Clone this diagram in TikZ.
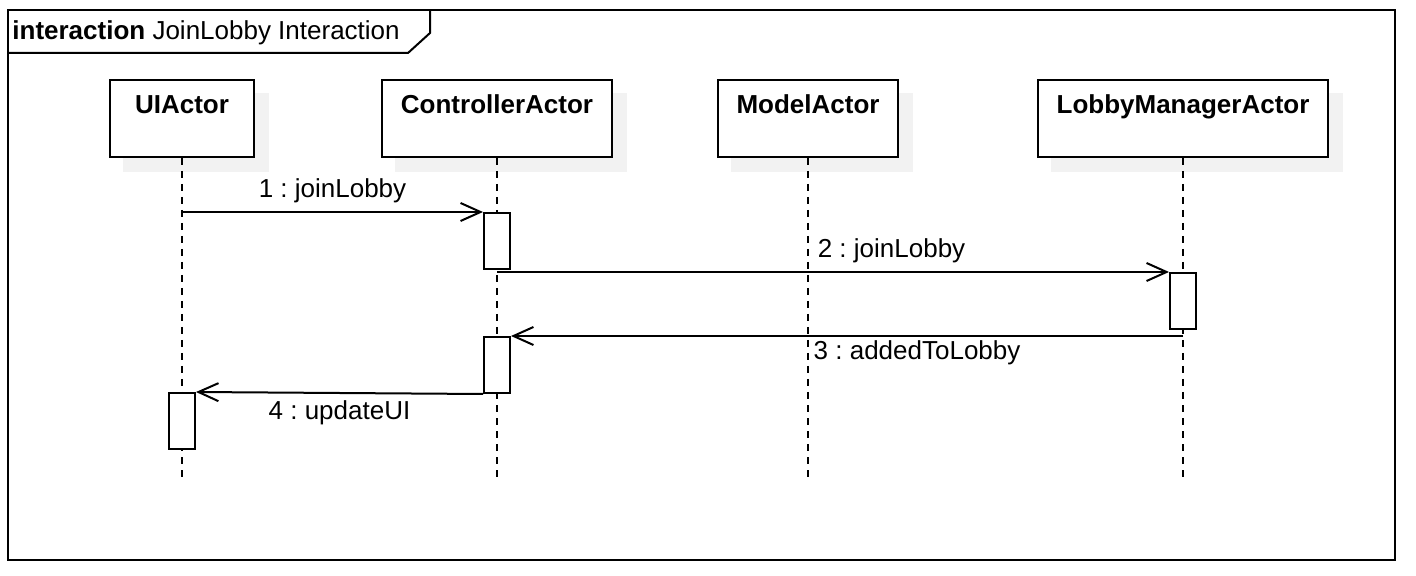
\documentclass[tikz,border=0pt]{standalone}
\usepackage{fontspec}
\setmainfont{Liberation Sans}
\frenchspacing
\usetikzlibrary{arrows.meta, backgrounds}

\begin{document}
\begin{tikzpicture}[x=0.5pt, y=-0.5pt]
    %tikz sequence
\tikzset{
    actor/.style={draw, line width=1pt, fill=white, inner sep=0pt,
        font=\bfseries\fontsize{13}{15}\selectfont, text height=16.75pt, text depth=21.75pt},
    actor shadow/.style={fill=black!5, draw=none},
    bar/.style={draw, line width=1pt, fill=white, minimum width=13pt, minimum height=28pt, inner sep=0pt, anchor=north},
    lifeline/.style={line width=1pt, dash pattern=on 3.5pt off 3pt},
    msg/.style={line width=1pt, -{Straight Barb[length=10pt, width=9pt]}},
    msg label/.style={font=\fontsize{13}{15}\selectfont, inner sep=2pt}
}
    \useasboundingbox (0,0) rectangle (1416,576);

    % frame
    \draw[line width=1pt] (8,10) rectangle (1395,560);
    \draw[line width=1pt] (430,10) -- (430,33) -- (408,53) -- (8,53);
    \node[anchor=base west, inner sep=0pt, font=\fontsize{13}{15}\selectfont](Title) at (12,39.5) {\textbf{interaction} JoinLobby Interaction};

    \node[actor, minimum width=72pt](UIActor) at (182,118.5) {UIActor};
    \node[actor, minimum width=115pt](Controller) at (497,118.5) {ControllerActor};
    \node[actor, minimum width=90pt](Model) at (808,118.5) {ModelActor};
    \node[actor, minimum width=145pt](LobbyManager) at (1183,118.5) {LobbyManagerActor};
    \coordinate (LifeEnd) at (0,478);

    \begin{scope}[on background layer]
    \foreach \a in {UIActor, Controller, Model, LobbyManager}
        \fill[actor shadow] ([shift={(14,14)}]\a.north west) rectangle ([shift={(14,14)}]\a.south east);
    \end{scope}
    \foreach \a in {UIActor, Controller, Model, LobbyManager}
        \draw[lifeline] (\a.south) -- (\a.south |- LifeEnd);

    % activations
    \node[bar](Act1) at (Controller |- 0,212) {};
    \node[bar](Act2) at (LobbyManager |- 0,272) {};
    \node[bar](Act3) at (Controller |- 0,336) {};
    \node[bar](Act4) at (UIActor |- 0,392) {};

    % messages
    \draw[msg] (UIActor |- Act1.north) -- node[msg label, above, inner sep=4pt]{1 : joinLobby} (Act1.north west);
    \draw[msg] (Controller |- Act2.north) -- node[msg label, pos=0.464, above right, inner sep=4pt]{2 : joinLobby} (Act2.north west);
    \draw[msg] (LobbyManager |- Act3.north) -- node[msg label, pos=0.557, below right]{3 : addedToLobby} (Act3.north east);
    \draw[msg] (Act3.south west) -- node[msg label, below, yshift=-1.5pt]{4 : updateUI} (Act4.north east);
  \end{tikzpicture}
\end{document}
